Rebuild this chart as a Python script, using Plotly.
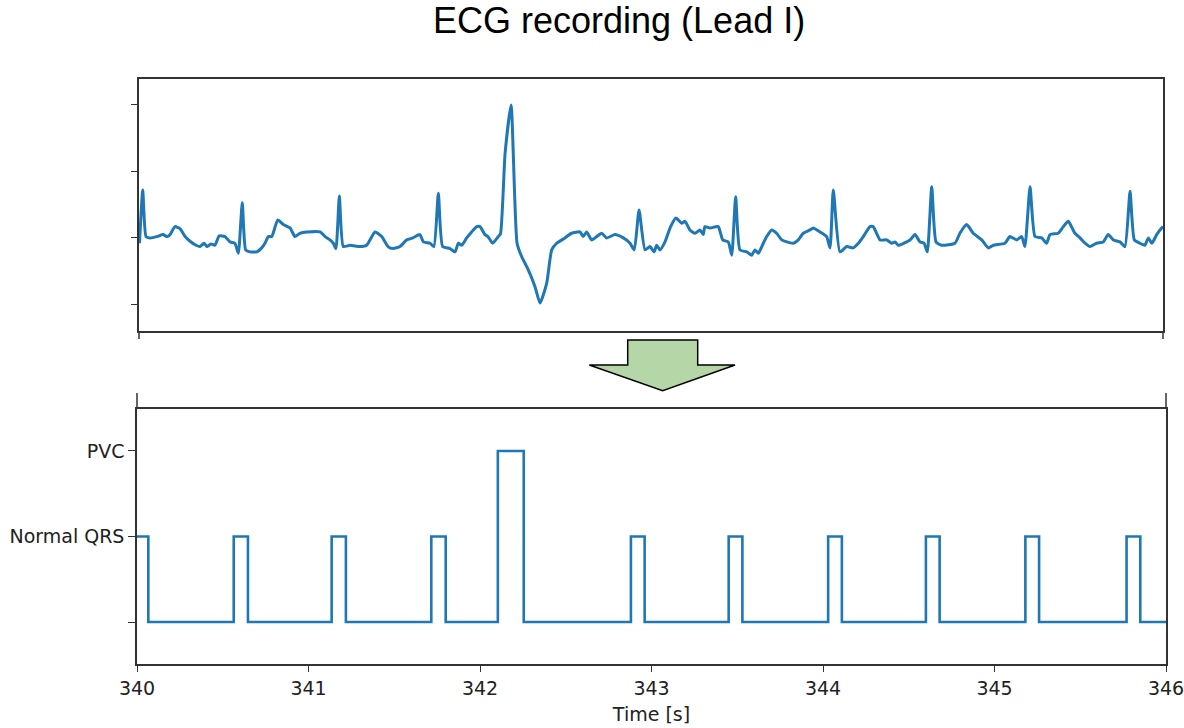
import plotly.graph_objects as go

# ---------------- data ----------------
ecg_time = [
    340.003, 340.022, 340.041, 340.064, 340.105, 340.141, 340.164, 340.182, 340.211, 340.240,
    340.270, 340.299, 340.334, 340.357, 340.381, 340.398, 340.422, 340.445, 340.470, 340.504,
    340.533, 340.562, 340.582, 340.605, 340.625, 340.650, 340.690, 340.719, 340.738, 340.758,
    340.778, 340.813, 340.846, 340.885, 340.914, 340.943, 340.983, 341.061, 341.090, 341.119,
    341.138, 341.154, 341.174, 341.197, 341.236, 341.295, 341.334, 341.383, 341.422, 341.459,
    341.488, 341.529, 341.569, 341.605, 341.646, 341.666, 341.705, 341.728, 341.754, 341.779,
    341.822, 341.852, 341.871, 341.891, 341.920, 341.949, 341.979, 341.998, 342.027, 342.045,
    342.072, 342.105, 342.118, 342.145, 342.180, 342.215, 342.242, 342.281, 342.320, 342.350,
    342.389, 342.418, 342.447, 342.496, 342.535, 342.584, 342.603, 342.623, 342.652, 342.682,
    342.711, 342.740, 342.789, 342.838, 342.877, 342.902, 342.930, 342.965, 342.994, 343.018,
    343.033, 343.053, 343.082, 343.115, 343.146, 343.180, 343.199, 343.228, 343.258, 343.287,
    343.306, 343.316, 343.346, 343.394, 343.420, 343.453, 343.473, 343.496, 343.521, 343.561,
    343.590, 343.609, 343.629, 343.658, 343.678, 343.707, 343.736, 343.766, 343.795, 343.834,
    343.863, 343.892, 343.932, 343.951, 343.990, 344.029, 344.049, 344.068, 344.107, 344.147,
    344.185, 344.215, 344.244, 344.283, 344.302, 344.342, 344.381, 344.410, 344.430, 344.449,
    344.518, 344.547, 344.576, 344.600, 344.619, 344.645, 344.670, 344.703, 344.781, 344.810,
    344.850, 344.888, 344.938, 344.976, 345.006, 345.074, 345.103, 345.143, 345.172, 345.191,
    345.221, 345.250, 345.289, 345.318, 345.338, 345.386, 345.416, 345.445, 345.484, 345.514,
    345.543, 345.572, 345.611, 345.650, 345.679, 345.709, 345.748, 345.777, 345.807, 345.832,
    345.865, 345.894, 345.914, 345.935, 345.963, 345.992, 346.000,
]
ecg_value = [
    -0.08, 0.72, 0.02, 0.00, 0.02, 0.05, 0.02, 0.05, 0.17, 0.14,
    0.02, -0.05, -0.11, -0.13, -0.08, -0.13, -0.09, -0.11, 0.03, 0.02,
    -0.06, -0.08, -0.23, 0.53, -0.18, -0.21, -0.21, -0.15, -0.08, 0.02,
    0.02, 0.27, 0.20, 0.15, 0.02, 0.07, 0.09, 0.09, 0.02, -0.03,
    -0.08, -0.16, 0.63, -0.13, -0.11, -0.13, -0.11, 0.09, 0.02, -0.13,
    -0.16, -0.13, -0.03, 0.00, 0.05, -0.06, -0.08, -0.13, 0.67, -0.13,
    -0.16, -0.21, -0.08, -0.11, 0.00, 0.09, 0.17, 0.17, 0.05, 0.02,
    -0.08, 0.02, 0.06, 1.27, 2.00, -0.08, -0.28, -0.48, -0.73, -0.98,
    -0.68, -0.18, -0.08, 0.00, 0.07, 0.09, 0.02, 0.09, -0.03, 0.02,
    0.07, 0.00, 0.05, 0.00, -0.08, -0.18, 0.42, -0.18, -0.13, -0.21,
    -0.11, -0.18, -0.06, 0.17, 0.30, 0.22, 0.25, 0.12, 0.07, 0.12,
    0.05, 0.17, 0.15, 0.17, -0.03, -0.06, -0.26, 0.62, -0.18, -0.21,
    -0.26, -0.18, -0.23, -0.08, 0.02, 0.12, 0.07, -0.03, -0.06, -0.08,
    -0.03, 0.07, 0.12, 0.15, 0.09, 0.02, -0.15, 0.72, -0.21, -0.13,
    -0.15, -0.08, 0.02, 0.17, 0.17, -0.03, -0.03, -0.08, -0.06, -0.11,
    -0.03, 0.05, -0.06, -0.08, -0.21, 0.77, -0.06, -0.11, -0.08, 0.07,
    0.20, 0.07, -0.03, -0.15, -0.11, -0.08, 0.02, -0.03, 0.02, -0.13,
    0.77, 0.02, 0.00, -0.08, 0.05, 0.07, 0.17, 0.25, 0.07, 0.00,
    -0.08, -0.13, -0.08, -0.06, 0.05, -0.03, -0.06, -0.13, 0.70, -0.03,
    -0.08, -0.11, 0.00, -0.08, 0.05, 0.15, 0.17,
]

# beat annotations (onset, offset, class: 1 = Normal QRS, 2 = PVC)
beat_start = [340.000, 340.564, 341.135, 341.716, 342.104, 342.880, 343.450, 344.030, 344.600, 345.180, 345.770]
beat_end   = [340.066, 340.647, 341.218, 341.800, 342.255, 342.960, 343.530, 344.110, 344.680, 345.260, 345.850]
beat_class = [1, 1, 1, 1, 2, 1, 1, 1, 1, 1, 1]

class_ticks = [0, 1, 2]
class_labels = ["", "Normal QRS", "PVC"]
time_ticks = [340, 341, 342, 343, 344, 345, 346]
t_min, t_max = 340, 346

# build step signal
lab_t = []
lab_v = []
for s, e, c in zip(beat_start, beat_end, beat_class):
    lab_t += [s, s, e, e]
    lab_v += [0, c, c, 0]
if lab_t[0] <= t_min:
    lab_t = lab_t[1:]
    lab_v = lab_v[1:]
lab_t.append(t_max)
lab_v.append(0)

# ---------------- figure ----------------
W, H = 1184, 728


def px(x):
    return x / W


def py(y):
    return 1 - y / H


BLUE = "#1f77b4"
SPINE = "#333333"
FONT = "DejaVu Sans"

fig = go.Figure()
fig.add_trace(go.Scatter(x=ecg_time, y=ecg_value, mode="lines",
                         line=dict(color=BLUE, width=3, shape="spline", smoothing=0.5),
                         xaxis="x", yaxis="y", showlegend=False, hoverinfo="skip"))
fig.add_trace(go.Scatter(x=lab_t, y=lab_v, mode="lines",
                         line=dict(color=BLUE, width=2.6), xaxis="x2", yaxis="y2",
                         showlegend=False, hoverinfo="skip"))

axis_common = dict(showline=True, linecolor=SPINE, linewidth=1.5, mirror=True,
                   showgrid=False, zeroline=False, tickcolor=SPINE, tickwidth=1.3,
                   automargin=False, ticklabeloverflow="allow")

fig.update_layout(
    width=W, height=H,
    margin=dict(l=0, r=0, t=0, b=0, autoexpand=False),
    paper_bgcolor="white", plot_bgcolor="white",
    font=dict(family=FONT, size=19, color="#222222"),
    xaxis=dict(domain=[px(139), px(1163)], range=[t_min, t_max], anchor="y",
               showticklabels=False, ticks="", **axis_common),
    yaxis=dict(domain=[py(331), py(79)], range=[-1.40, 2.39], anchor="x",
               tickvals=[-1, 0, 1, 2], showticklabels=False, ticks="outside",
               ticklen=6, **axis_common),
    xaxis2=dict(domain=[px(137), px(1166)], range=[t_min, t_max], anchor="y2",
                tickvals=time_ticks, ticktext=[str(v) for v in time_ticks],
                ticks="outside", ticklen=6,
                title=dict(text="Time [s]", standoff=10, font=dict(size=19)),
                **axis_common),
    yaxis2=dict(domain=[py(664), py(409)], range=[-0.49, 2.49], anchor="x2",
                tickvals=class_ticks, ticktext=class_labels, ticks="outside",
                ticklen=7, **axis_common),
)

shapes = []
# spine extensions (as in the reference composite)
for x in (139, 1163):
    shapes.append(dict(type="line", xref="paper", yref="paper",
                       x0=px(x), x1=px(x), y0=py(331), y1=py(339),
                       line=dict(color=SPINE, width=1.5)))
for x in (137, 1166):
    shapes.append(dict(type="line", xref="paper", yref="paper",
                       x0=px(x), x1=px(x), y0=py(409), y1=py(393),
                       line=dict(color=SPINE, width=1.5)))
# green down arrow
arrow_pts = [(627.7, 340), (697.7, 340), (697.7, 365), (735, 365), (662.7, 390.7),
             (589.3, 365), (627.7, 365)]
path = "M " + " L ".join(f"{px(x):.5f},{py(y):.5f}" for x, y in arrow_pts) + " Z"
shapes.append(dict(type="path", xref="paper", yref="paper", path=path,
                   fillcolor="#b5d7a8", line=dict(color="black", width=1.5)))
fig.update_layout(shapes=shapes)

fig.add_annotation(text="ECG recording (Lead I)", xref="paper", yref="paper",
                   x=px(619), y=py(20), xanchor="center", yanchor="middle",
                   showarrow=False,
                   font=dict(family="Liberation Sans, Arial", size=36, color="black"))

fig.write_html("out.html")
